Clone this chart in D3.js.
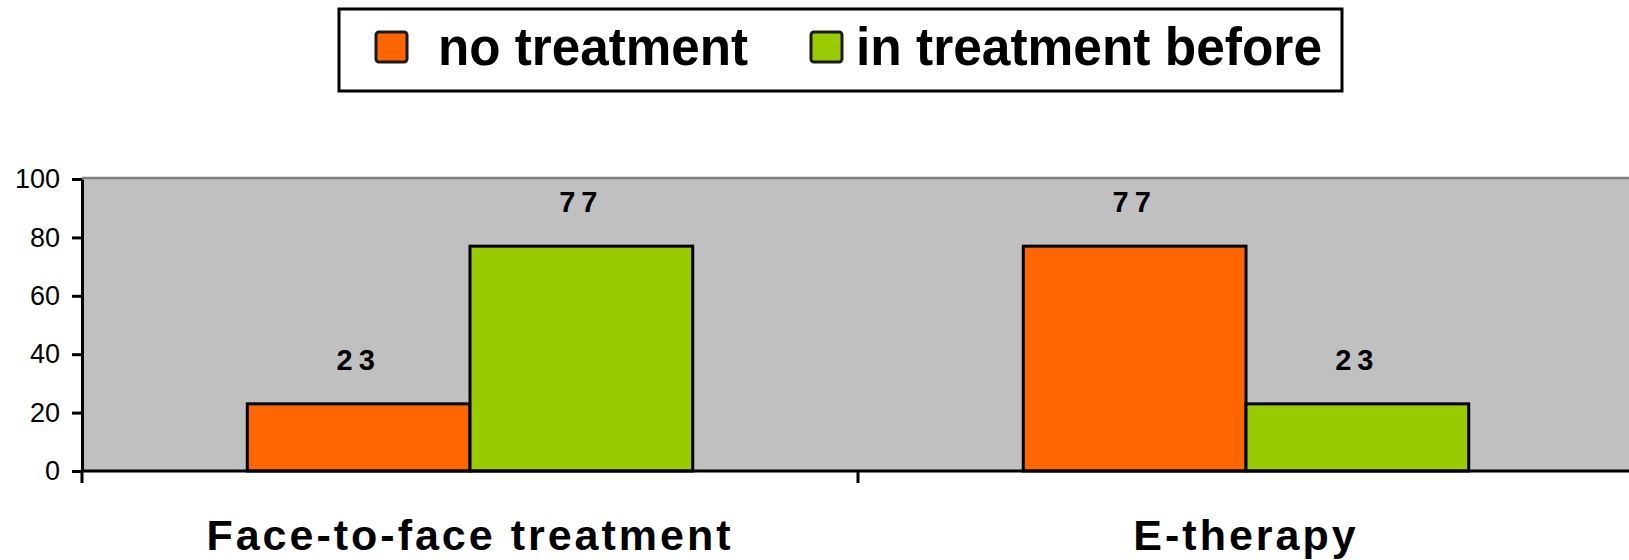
<!DOCTYPE html>
<html>
<head>
<meta charset="utf-8">
<script src="https://cdn.jsdelivr.net/npm/d3@7"></script>
<style>
    body { margin: 0; background: #fff; }
    svg { display: block; font-family: "Liberation Sans", Arial, sans-serif; }
</style>
</head>
<body>
<svg id="chart" width="1629" height="560"></svg>
<script>
// Chart data
const categories = ['Face-to-face treatment', 'E-therapy'];
const seriesNames = ['no treatment', 'in treatment before'];
const noTreatment = [23, 77];
const inTreatmentBefore = [77, 23];
const yTicks = [0, 20, 40, 60, 80, 100];

const seriesColors = ['#ff6600', '#99cc00'];

const svg = d3.select('#chart');

// Plot area (right side runs past the picture edge)
const plot = { left: 82, right: 1634, top: 179, bottom: 471 };

const x0 = d3.scaleBand()
    .domain(categories)
    .range([plot.left, plot.right])
    .paddingInner(0.426)
    .paddingOuter(0.213);

const x1 = d3.scaleBand()
    .domain(seriesNames)
    .range([0, x0.bandwidth()]);

const y = d3.scaleLinear()
    .domain([0, 100])
    .range([plot.bottom, plot.top]);

// Rows for the bars
const rows = [];
categories.forEach((cat, i) => {
    rows.push({ cat, series: seriesNames[0], value: noTreatment[i], color: seriesColors[0] });
    rows.push({ cat, series: seriesNames[1], value: inTreatmentBefore[i], color: seriesColors[1] });
});

// Background of plot area
svg.append('rect')
    .attr('x', plot.left)
    .attr('y', plot.top)
    .attr('width', plot.right - plot.left + 10)
    .attr('height', plot.bottom - plot.top)
    .attr('fill', '#c0c0c0');

svg.append('line')
    .attr('x1', plot.left).attr('x2', 1629)
    .attr('y1', plot.top - 1).attr('y2', plot.top - 1)
    .attr('stroke', '#808080')
    .attr('stroke-width', 2.5);

// Bars
svg.append('g')
    .selectAll('rect')
    .data(rows)
    .join('rect')
    .attr('x', d => x0(d.cat) + x1(d.series))
    .attr('y', d => y(d.value))
    .attr('width', x1.bandwidth())
    .attr('height', d => y(0) - y(d.value))
    .attr('fill', d => d.color)
    .attr('stroke', '#000')
    .attr('stroke-width', 3);

// Value labels
svg.append('g')
    .selectAll('text')
    .data(rows)
    .join('text')
    .attr('x', d => x0(d.cat) + x1(d.series) + x1.bandwidth() / 2)
    .attr('y', d => y(d.value) - 34)
    .attr('text-anchor', 'middle')
    .attr('font-size', '29px')
    .attr('font-weight', 'bold')
    .attr('letter-spacing', '6px')
    .text(d => d.value);

// Y axis
const yAxis = svg.append('g')
    .attr('transform', `translate(${plot.left},0)`)
    .call(d3.axisLeft(y).tickValues(yTicks).tickSize(10).tickSizeOuter(0).tickPadding(12));

yAxis.select('.domain').attr('stroke', '#000').attr('stroke-width', 3);
yAxis.selectAll('.tick line').attr('stroke', '#000').attr('stroke-width', 3);
yAxis.selectAll('.tick text')
    .attr('fill', '#000')
    .attr('font-size', '27px')
    .attr('font-family', '"Liberation Sans", Arial, sans-serif');

// X axis line and tick marks between categories
svg.append('line')
    .attr('x1', plot.left).attr('x2', 1629)
    .attr('y1', plot.bottom).attr('y2', plot.bottom)
    .attr('stroke', '#000')
    .attr('stroke-width', 3);

const boundaries = d3.range(categories.length + 1)
    .map(i => plot.left + i * x0.step());

svg.append('g')
    .selectAll('line')
    .data(boundaries)
    .join('line')
    .attr('x1', d => d).attr('x2', d => d)
    .attr('y1', plot.bottom).attr('y2', plot.bottom + 12)
    .attr('stroke', '#000')
    .attr('stroke-width', 3);

// Category labels
svg.append('g')
    .selectAll('text')
    .data(categories)
    .join('text')
    .attr('x', d => x0(d) + x0.bandwidth() / 2)
    .attr('y', 550)
    .attr('text-anchor', 'middle')
    .attr('font-size', '43px')
    .attr('font-weight', 'bold')
    .attr('letter-spacing', '3px')
    .text(d => d);

// Legend
const legend = svg.append('g');

legend.append('rect')
    .attr('x', 339).attr('y', 9)
    .attr('width', 1003).attr('height', 82)
    .attr('fill', '#fff')
    .attr('stroke', '#000')
    .attr('stroke-width', 3);

const legendX = [376, 811];
const legendTextWidth = [310, 466];

legend.selectAll('rect.swatch')
    .data(seriesNames)
    .join('rect')
    .attr('class', 'swatch')
    .attr('x', (d, i) => legendX[i])
    .attr('y', 32)
    .attr('width', 31).attr('height', 30)
    .attr('rx', 3)
    .attr('fill', (d, i) => seriesColors[i])
    .attr('stroke', '#1a1a1a')
    .attr('stroke-width', 3);

legend.selectAll('text')
    .data(seriesNames)
    .join('text')
    .attr('x', (d, i) => legendX[i] + (i === 0 ? 62 : 45))
    .attr('y', 65)
    .attr('font-size', '54px')
    .attr('font-weight', 'bold')
    .attr('textLength', (d, i) => legendTextWidth[i])
    .attr('lengthAdjust', 'spacingAndGlyphs')
    .text(d => d);
</script>
</body>
</html>
